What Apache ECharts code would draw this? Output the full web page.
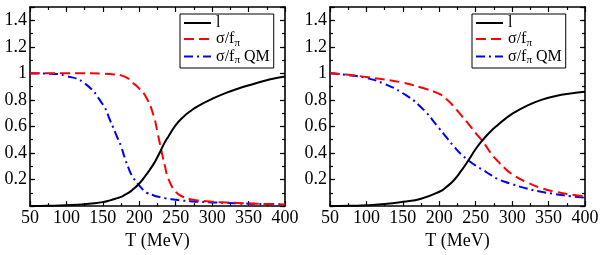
<!DOCTYPE html>
<html><head><meta charset="utf-8">
<script src="https://cdn.jsdelivr.net/npm/echarts@6/dist/echarts.min.js"></script>
<style>html,body{margin:0;padding:0;background:#fff}#c{width:606px;height:255px}</style>
</head><body><div id="c"></div>
<script>
// ---- data ----
const seriesNames = ['l', 'σ/fπ', 'σ/fπ QM'];
const xTicks = [50, 100, 150, 200, 250, 300, 350, 400];
const yTickLabels = ['0.2', '0.4', '0.6', '0.8', '1', '1.2', '1.4'];
const xTitle = 'T (MeV)';

const leftT = [50,75,100,125,150,160,170,175,180,185,190,200,210,220,225,230,235,240,250,260,270,280,300,320,340,360,380,400];
const leftL = [0,0.002,0.006,0.014,0.03,0.043,0.06,0.07,0.084,0.1,0.12,0.17,0.24,0.32,0.37,0.425,0.48,0.525,0.61,0.67,0.715,0.752,0.808,0.855,0.893,0.925,0.955,0.977];
const leftSigma = [1,1,1,1,0.998,0.995,0.99,0.985,0.975,0.96,0.935,0.885,0.815,0.675,0.555,0.425,0.305,0.205,0.108,0.07,0.052,0.043,0.033,0.027,0.022,0.018,0.015,0.012];
const leftSigmaQM = [1,0.998,0.98,0.925,0.765,0.645,0.515,0.45,0.365,0.29,0.23,0.155,0.102,0.08,0.072,0.065,0.06,0.056,0.047,0.041,0.037,0.033,0.028,0.024,0.02,0.017,0.014,0.012];

const rightT = [50,75,100,125,150,175,200,210,220,230,240,250,260,270,280,290,300,320,340,360,380,400];
const rightL = [0,0.002,0.007,0.015,0.032,0.056,0.108,0.145,0.195,0.265,0.345,0.43,0.5,0.56,0.61,0.655,0.695,0.755,0.8,0.83,0.849,0.862];
const rightSigma = [1,0.99,0.972,0.953,0.93,0.893,0.845,0.805,0.75,0.685,0.62,0.55,0.485,0.405,0.34,0.285,0.24,0.18,0.136,0.108,0.088,0.074];
const rightSigmaQM = [1,0.987,0.965,0.92,0.85,0.745,0.585,0.517,0.45,0.39,0.345,0.305,0.272,0.237,0.205,0.183,0.165,0.132,0.108,0.09,0.075,0.063];

// ---- chart ----
const FONT = "'Liberation Serif','Times New Roman',serif";
const pair = (xs, ys) => xs.map((x, i) => [x, ys[i]]);
const grids = [
  {left: 30, top: 7, width: 255, height: 205},
  {left: 330, top: 7, width: 255, height: 205}
];
const axisLine = {show: true, onZero: false, lineStyle: {color: '#000', width: 1.6}};
const xAxes = [], yAxes = [], series = [];
const styles = [
  {color: '#000', type: 'solid'},
  {color: '#ff0000', type: [10, 5]},
  {color: '#0000ff', type: [9, 4, 2, 4]}
];
const panels = [[leftT, [leftL, leftSigma, leftSigmaQM]], [rightT, [rightL, rightSigma, rightSigmaQM]]];

grids.forEach((g, gi) => {
  ['bottom', 'top'].forEach(pos => {
    xAxes.push({
      type: 'value', gridIndex: gi, position: pos, min: xTicks[0], max: xTicks[xTicks.length - 1],
      interval: xTicks[1] - xTicks[0],
      axisLine, splitLine: {show: false},
      axisTick: {show: true, inside: true, length: 5, lineStyle: {color: '#000', width: 1.2}},
      minorTick: {show: true, splitNumber: 2, length: 3, lineStyle: {color: '#000', width: 1.2}},
      axisLabel: pos === 'bottom' ? {show: true, margin: 3, color: '#000', fontSize: 18, fontFamily: FONT} : {show: false},
      name: pos === 'bottom' ? xTitle : '', nameLocation: 'middle', nameGap: 14,
      nameTextStyle: {color: '#000', fontSize: 18, fontFamily: FONT}
    });
  });
  ['left', 'right'].forEach(pos => {
    yAxes.push({
      type: 'value', gridIndex: gi, position: pos, min: 0, max: 1.5, interval: 0.1,
      axisLine, splitLine: {show: false},
      axisTick: {show: true, inside: true, length: 3, lineStyle: {color: '#000', width: 1.2}},
      axisLabel: pos === 'left' ? {
        show: true, margin: 3, color: '#000', fontSize: 18, fontFamily: FONT,
        formatter: v => { const s = (Math.round(v * 10) / 10).toString(); return yTickLabels.includes(s) ? s : ''; }
      } : {show: false}
    });
    yAxes.push({
      type: 'value', gridIndex: gi, position: pos, min: 0, max: 1.5, interval: 0.2,
      axisLine: {show: false}, splitLine: {show: false},
      axisTick: {show: true, inside: true, length: 5, lineStyle: {color: '#000', width: 1.2}},
      axisLabel: {show: false}
    });
  });
  const [T, vals] = panels[gi];
  vals.forEach((v, si) => {
    series.push({
      type: 'line', name: seriesNames[si], xAxisIndex: gi * 2, yAxisIndex: gi * 4,
      data: pair(T, v), showSymbol: false, symbol: 'none', smooth: 0.5,
      lineStyle: {color: styles[si].color, width: 2, type: styles[si].type},
      itemStyle: {color: styles[si].color}, z: 5 - si
    });
  });
});

const legendBase = {
  orient: 'vertical', top: 14, padding: [1, 4, 2, 3], itemGap: 0, itemWidth: 27, itemHeight: 16,
  borderColor: '#000', borderWidth: 1, borderRadius: 0, backgroundColor: '#fff',
  data: seriesNames, selectedMode: false,
  itemStyle: {opacity: 0},
  lineStyle: {width: 2},
  textStyle: {
    color: '#000', fontSize: 16, fontFamily: FONT,
    rich: {
      a: {fontSize: 16, fontFamily: FONT, color: '#000'},
      s: {fontSize: 11, fontFamily: FONT, color: '#000', padding: [8, 0, 0, 0]}
    }
  },
  formatter: n => n === 'l' ? '{a|l}' : (n === 'σ/fπ' ? '{a|σ/f}{s|π}' : '{a|σ/f}{s|π}{a| QM}')
};

const chart = echarts.init(document.getElementById('c'), null, {renderer: 'canvas'});
chart.setOption({
  animation: false,
  grid: grids,
  xAxis: xAxes,
  yAxis: yAxes,
  legend: [Object.assign({}, legendBase, {left: 180}), Object.assign({}, legendBase, {left: 472})],
  series
});
</script></body></html>
